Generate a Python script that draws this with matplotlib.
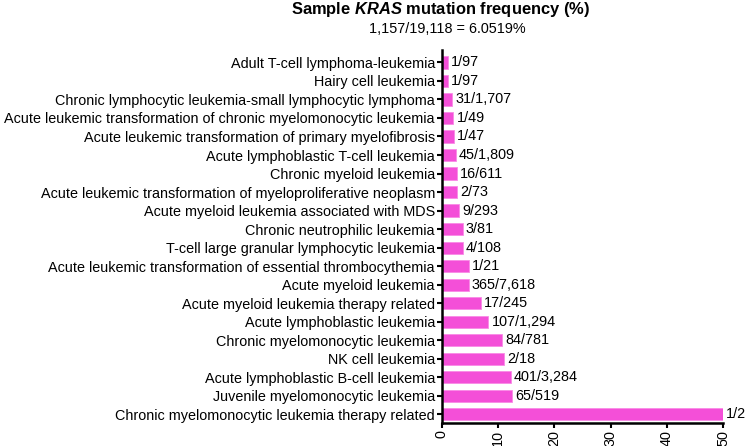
import matplotlib
matplotlib.use("Agg")
import matplotlib.pyplot as plt

plt.rcParams['font.family'] = ['Liberation Sans', 'DejaVu Sans']
plt.rcParams['mathtext.fontset'] = 'custom'
plt.rcParams['mathtext.bfit'] = 'Liberation Sans:italic:bold'
plt.rcParams['mathtext.it'] = 'Liberation Sans:italic'
plt.rcParams['mathtext.rm'] = 'Liberation Sans'

categories = [
    "Adult T-cell lymphoma-leukemia",
    "Hairy cell leukemia",
    "Chronic lymphocytic leukemia-small lymphocytic lymphoma",
    "Acute leukemic transformation of chronic myelomonocytic leukemia",
    "Acute leukemic transformation of primary myelofibrosis",
    "Acute lymphoblastic T-cell leukemia",
    "Chronic myeloid leukemia",
    "Acute leukemic transformation of myeloproliferative neoplasm",
    "Acute myeloid leukemia associated with MDS",
    "Chronic neutrophilic leukemia",
    "T-cell large granular lymphocytic leukemia",
    "Acute leukemic transformation of essential thrombocythemia",
    "Acute myeloid leukemia",
    "Acute myeloid leukemia therapy related",
    "Acute lymphoblastic leukemia",
    "Chronic myelomonocytic leukemia",
    "NK cell leukemia",
    "Acute lymphoblastic B-cell leukemia",
    "Juvenile myelomonocytic leukemia",
    "Chronic myelomonocytic leukemia therapy related",
]
mutated = [1, 1, 31, 1, 1, 45, 16, 2, 9, 3, 4, 1, 365, 17, 107, 84, 2, 401, 65, 1]
samples = [97, 97, 1707, 49, 47, 1809, 611, 73, 293, 81, 108, 21, 7618, 245, 1294, 781, 18, 3284, 519, 2]
bar_labels = ["1/97", "1/97", "31/1,707", "1/49", "1/47", "45/1,809", "16/611", "2/73",
              "9/293", "3/81", "4/108", "1/21", "365/7,618", "17/245", "107/1,294",
              "84/781", "2/18", "401/3,284", "65/519", "1/2"]
percent = [m / s * 100 for m, s in zip(mutated, samples)]
xticks = [0, 10, 20, 30, 40, 50]

fs = 10.4
fig = plt.figure(figsize=(7.46, 4.46), dpi=100)
ax = fig.add_axes([442/746, 1 - 423/446, (723 - 442)/746, (423 - 50)/446])

n = len(categories)
ypos = [n - 1 - i for i in range(n)]
color = '#F44FD8'
ax.barh(ypos, percent, height=0.66, color=color, edgecolor='#F98AE6', linewidth=0.6)
for y, v, lab in zip(ypos, percent, bar_labels):
    ax.annotate(lab, (v, y), xytext=(2.2, 0), textcoords='offset points',
                va='center', ha='left', fontsize=fs, annotation_clip=False)

ax.set_yticks(ypos)
ax.set_yticklabels(categories, fontsize=fs)
ax.set_xticks(xticks)
ax.set_xticklabels([str(t) for t in xticks], rotation=90, fontsize=fs)
ax.set_xlim(0, 50)
ax.set_ylim(-0.47, n - 1 + 0.67)
for s in ['top', 'right']:
    ax.spines[s].set_visible(False)
for s in ['left', 'bottom']:
    ax.spines[s].set_linewidth(1.8)
ax.tick_params(axis='both', width=1.5, length=3.6, color='black', pad=1.5)

fig.text(0.591, 0.978, r"Sample $\mathbfit{KRAS}$ mutation frequency (%)", ha='center', va='center',
         fontsize=11.9, fontweight='bold')
fig.text(0.600, 0.934, "1,157/19,118 = 6.0519%", ha='center', va='center', fontsize=fs)

fig.savefig("out.png", dpi=100)
